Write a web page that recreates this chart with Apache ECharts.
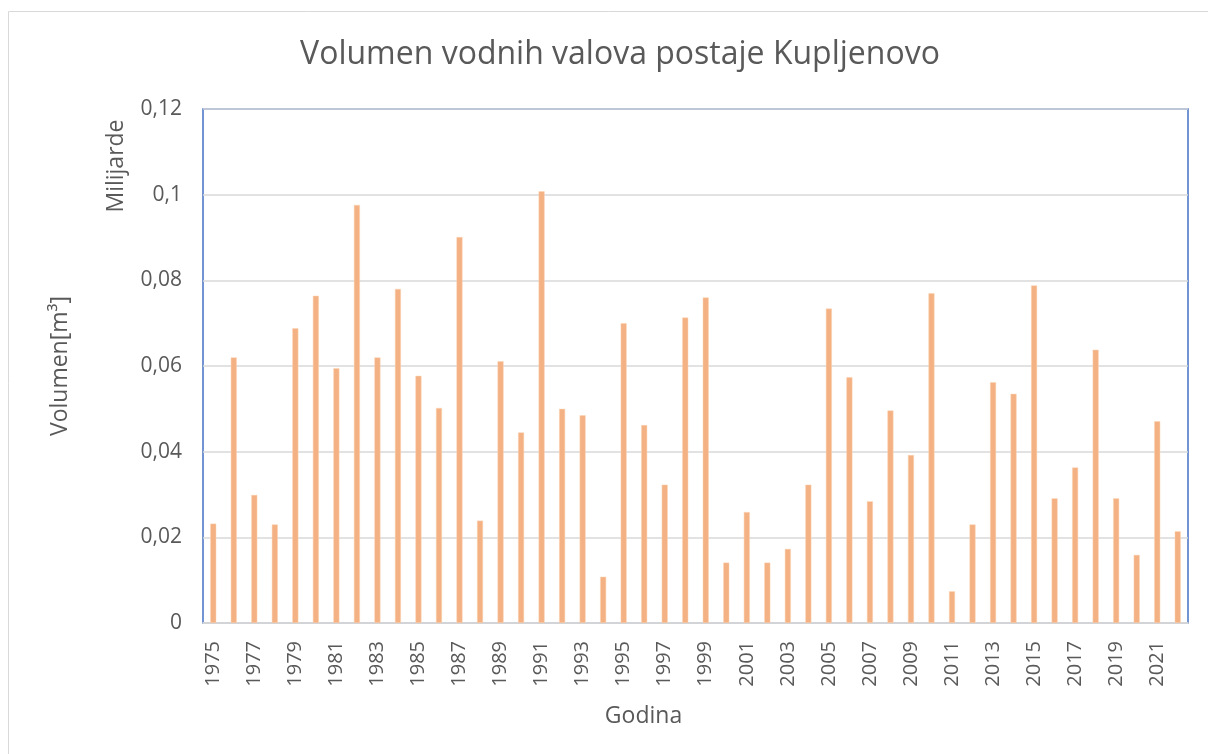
<!DOCTYPE html>
<html>
<head>
<meta charset="utf-8">
<script src="https://cdn.jsdelivr.net/npm/echarts@6/dist/echarts.min.js"></script>
<style>
html,body{margin:0;padding:0;background:#fff;}
#chart{width:1208px;height:754px;}
</style>
</head>
<body>
<div id="chart"></div>
<script>
const years = [];
for (let y = 1975; y <= 2022; y++) years.push(String(y));
const volumes = [
  0.0232, 0.0620, 0.0299, 0.0230, 0.0688, 0.0764, 0.0595, 0.0976, 0.0620, 0.0780,
  0.0577, 0.0502, 0.0901, 0.0239, 0.0611, 0.0445, 0.1008, 0.0500, 0.0485, 0.0108,
  0.0700, 0.0462, 0.0323, 0.0713, 0.0760, 0.0141, 0.0259, 0.0141, 0.0173, 0.0323,
  0.0734, 0.0574, 0.0284, 0.0496, 0.0392, 0.0770, 0.0074, 0.0230, 0.0562, 0.0535,
  0.0788, 0.0291, 0.0363, 0.0638, 0.0291, 0.0159, 0.0471, 0.0214
];
const titleText = 'Volumen vodnih valova postaje Kupljenovo';
const yAxisName = 'Volumen[m³]';
const unitsLabel = 'Milijarde';
const xAxisName = 'Godina';

const FONT = 'Open Sans';
const TXT = '#595959';
const chart = echarts.init(document.getElementById('chart'));
chart.setOption({
  animation: false,
  backgroundColor: '#fff',
  textStyle: { fontFamily: FONT },
  title: {
    text: titleText,
    left: 615, top: 34, textAlign: 'center',
    textStyle: { fontFamily: FONT, fontSize: 32, fontWeight: 'normal', color: TXT }
  },
  graphic: [
    { type: 'rect', shape: { x: 8.5, y: 11.5, width: 1220, height: 780 },
      style: { fill: 'none', stroke: '#d9d9d9', lineWidth: 1 }, silent: true },
    { type: 'text', x: 116, y: 166, rotation: Math.PI / 2,
      style: { text: unitsLabel, font: '23px "Open Sans"', fill: TXT,
               textAlign: 'center', textVerticalAlign: 'middle' } }
  ],
  grid: {
    left: 203, right: 20, top: 109, bottom: 131,
    show: true, borderColor: '#4472C4', borderWidth: 1.5
  },
  xAxis: {
    type: 'category', data: years,
    name: xAxisName, nameLocation: 'middle', nameGap: 82,
    nameTextStyle: { fontFamily: FONT, fontSize: 23, color: TXT, padding: [0, 104, 0, 0] },
    axisLine: { lineStyle: { color: '#d9d9d9', width: 1.5 } },
    axisTick: { show: false },
    axisLabel: { interval: 1, rotate: 90, fontFamily: FONT, fontSize: 20, color: TXT, margin: 18 }
  },
  yAxis: {
    type: 'value', min: 0, max: 0.12, interval: 0.02,
    name: yAxisName, nameLocation: 'middle', nameGap: 131,
    nameTextStyle: { fontFamily: FONT, fontSize: 23, color: TXT },
    axisLine: { show: false },
    axisTick: { show: false },
    axisLabel: {
      fontFamily: FONT, fontSize: 21, color: TXT, margin: 21,
      formatter: v => String(+v.toFixed(2)).replace('.', ',')
    },
    splitLine: { lineStyle: { color: '#d9d9d9', width: 1.5 } }
  },
  series: [{
    type: 'bar', data: volumes, barWidth: 6,
    itemStyle: { color: '#F4B183', borderColor: '#FBD5B5', borderWidth: 0.5 }
  }]
});
</script>
</body>
</html>
